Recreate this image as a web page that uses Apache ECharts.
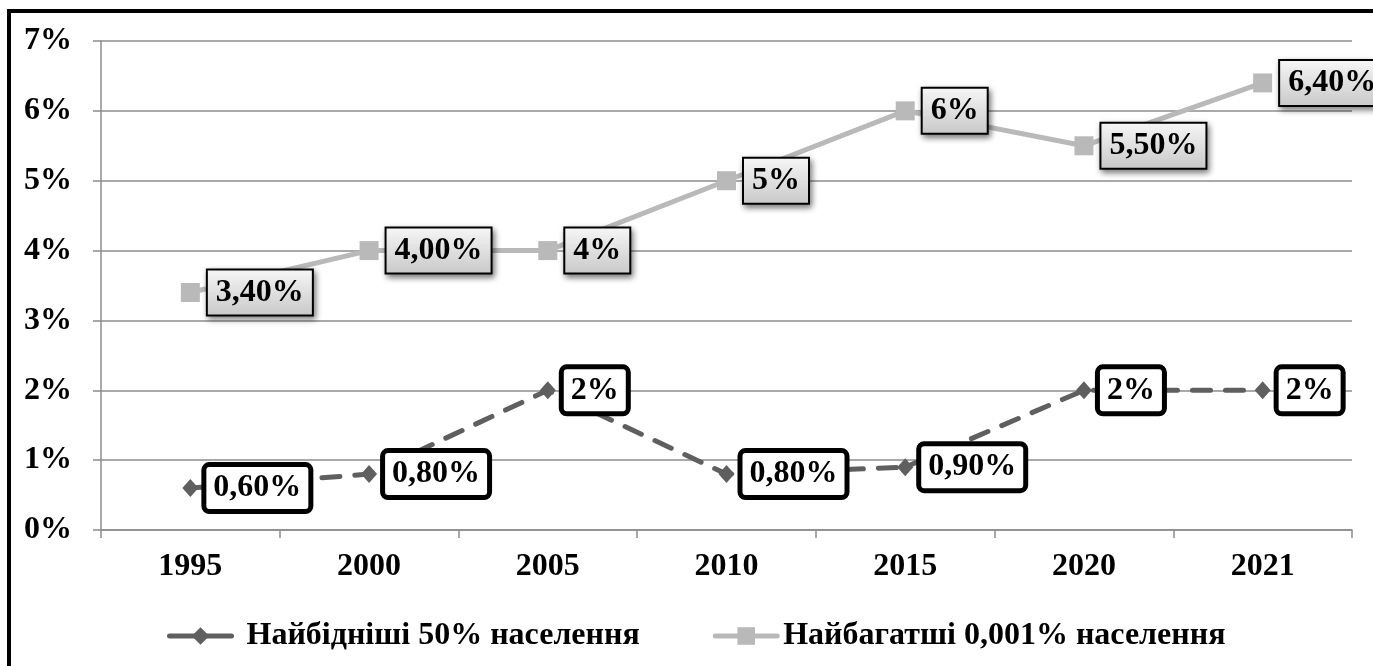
<!DOCTYPE html>
<html>
<head>
<meta charset="utf-8">
<script src="https://cdn.jsdelivr.net/npm/echarts@6/dist/echarts.min.js"></script>
<style>
  html, body { margin: 0; padding: 0; background: #fff; }
  #chart { width: 1373px; height: 666px; }
</style>
</head>
<body>
<div id="chart"></div>
<script>
// роки
const years = ["1995", "2000", "2005", "2010", "2015", "2020", "2021"];
// частка доходу, %
const poorest = [0.6, 0.8, 2.0, 0.8, 0.9, 2.0, 2.0];
const richest = [3.4, 4.0, 4.0, 5.0, 6.0, 5.5, 6.4];
// підписи даних як на оригіналі
const poorestLabels = ["0,60%", "0,80%", "2%", "0,80%", "0,90%", "2%", "2%"];
const richestLabels = ["3,40%", "4,00%", "4%", "5%", "6%", "5,50%", "6,40%"];
const seriesNames = ["Найбідніші 50% населення", "Найбагатші 0,001% населення"];
const yTicks = { min: 0, max: 7, interval: 1 };

const font = "Liberation Serif";
const fs = 32;
const axisGray = "#8c8c8c";

let myChart = echarts.init(document.getElementById("chart"));
myChart.setOption({
  animation: false,
  backgroundColor: "#fff",
  textStyle: { fontFamily: font },
  graphic: [
    {
      // рамка навколо діаграми
      type: "rect",
      shape: { x: 9, y: 11, width: 1420, height: 720 },
      style: { fill: "none", stroke: "#000", lineWidth: 4 },
      z: 100,
    },
  ],
  grid: {
    left: 101,
    right: 21,
    top: 41,
    bottom: 136,
  },
  legend: {
    left: 162,
    top: 615,
    itemWidth: 62,
    itemHeight: 22,
    itemGap: 73,
    lineStyle: { width: 5, cap: "round" },
    data: [
      {
        name: seriesNames[0],
        lineStyle: { type: "solid" },
        textStyle: { padding: [0, 0, 0, 10] },
      },
      {
        name: seriesNames[1],
        textStyle: { padding: [0, 0, 0, 1] },
      },
    ],
    textStyle: {
      fontFamily: font,
      fontSize: fs,
      fontWeight: "bold",
      color: "#000",
    },
  },
  xAxis: {
    type: "category",
    data: years,
    boundaryGap: true,
    axisLine: { lineStyle: { color: axisGray, width: 1.5 } },
    axisTick: { show: true, length: 8, lineStyle: { color: axisGray, width: 1.5 } },
    axisLabel: {
      margin: 21,
      fontFamily: font,
      fontSize: fs,
      fontWeight: "bold",
      color: "#000",
    },
  },
  yAxis: {
    type: "value",
    min: yTicks.min,
    max: yTicks.max,
    interval: yTicks.interval,
    axisLine: { show: true, lineStyle: { color: axisGray, width: 1.5 } },
    axisTick: { show: true, length: 8, lineStyle: { color: axisGray, width: 1.5 } },
    splitLine: { lineStyle: { color: axisGray, width: 1.5 } },
    axisLabel: {
      margin: 29,
      formatter: "{value}%",
      fontFamily: font,
      fontSize: fs,
      fontWeight: "bold",
      color: "#000",
    },
  },
  series: [
    {
      name: seriesNames[0],
      type: "line",
      data: poorest,
      symbol: "diamond",
      symbolSize: [16, 18],
      itemStyle: { color: "#5f5f5f" },
      lineStyle: {
        color: "#5f5f5f",
        width: 5,
        type: [18, 15],
        cap: "round",
      },
      label: {
        show: true,
        position: "right",
        distance: 8,
        formatter: (p) => poorestLabels[p.dataIndex],
        fontFamily: font,
        fontSize: fs,
        fontWeight: "bold",
        color: "#000",
        lineHeight: 32,
        backgroundColor: "#fff",
        borderColor: "#000",
        borderWidth: 5,
        borderRadius: 3,
        padding: [5, 7, 5, 7],
      },
      z: 3,
    },
    {
      name: seriesNames[1],
      type: "line",
      data: richest,
      symbol: "rect",
      symbolSize: 19,
      itemStyle: { color: "#b9b9b9" },
      lineStyle: { color: "#b9b9b9", width: 5 },
      label: {
        show: true,
        position: "right",
        distance: 8,
        formatter: (p) => richestLabels[p.dataIndex],
        fontFamily: font,
        fontSize: fs,
        fontWeight: "bold",
        color: "#000",
        lineHeight: 32,
        backgroundColor: {
          type: "linear",
          x: 0, y: 0, x2: 0, y2: 1,
          colorStops: [
            { offset: 0, color: "#f7f7f7" },
            { offset: 1, color: "#c8c8c8" },
          ],
        },
        borderColor: "#000",
        borderWidth: 2,
        padding: [6, 8, 6, 8],
        shadowColor: "rgba(0,0,0,0.45)",
        shadowBlur: 6,
        shadowOffsetX: 2,
        shadowOffsetY: 3,
      },
      z: 2,
    },
  ],
});
</script>
</body>
</html>
